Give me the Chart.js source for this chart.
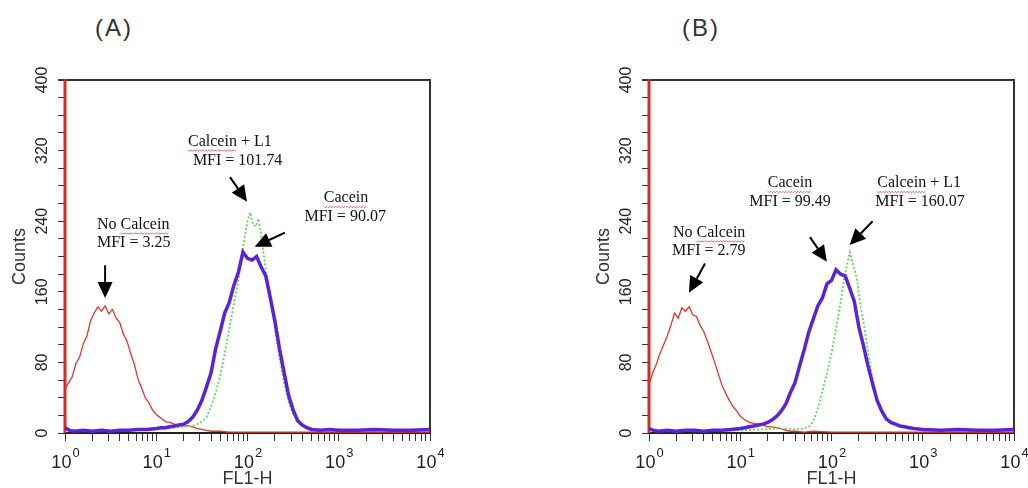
<!DOCTYPE html>
<html>
<head>
<meta charset="utf-8">
<script src="https://cdn.jsdelivr.net/npm/chart.js@4.4.1/dist/chart.umd.min.js"></script>
<style>
  html, body { margin: 0; padding: 0; background: #fff; }
  body { width: 1028px; height: 488px; position: relative; overflow: hidden; font-family: "Liberation Sans", Arial, sans-serif; }
  .panel { position: absolute; top: 0; width: 444px; height: 488px; }
  .tag { position: absolute; top: 14px; font-size: 24px; color: #333; letter-spacing: 2px; transform: translateX(-50%); }
</style>
</head>
<body>
<div class="tag" style="left:114px">(A)</div>
<div class="tag" style="left:701px">(B)</div>
<div class="panel" style="left:0"><canvas id="chartA" width="444" height="488"></canvas></div>
<div class="panel" style="left:584px"><canvas id="chartB" width="444" height="488"></canvas></div>

<script>
const decades = [0, 1, 2, 3, 4];
const countLabels = [0, 80, 160, 240, 320, 400];

// panel A
const redA_x = [0, 0, 0, 0.04, 0.08, 0.12, 0.16, 0.20, 0.24, 0.28, 0.32, 0.36, 0.40, 0.44, 0.48, 0.52, 0.56, 0.60, 0.64, 0.68, 0.72, 0.76, 0.80, 0.84, 0.88, 0.92, 0.96, 1.00,
  1.05, 1.10, 1.15, 1.20, 1.25, 1.30, 1.35, 1.40, 1.45, 1.50, 1.55, 1.60, 1.70, 1.80, 2.00, 2.20, 2.40, 2.60, 2.80, 3.00, 3.50, 4.00];
const redA_y = [0, 420, 50, 57, 64, 79, 86, 101, 110, 127, 136, 143, 138, 144, 135, 140, 130, 125, 112, 104, 90, 78, 61, 51, 40, 34, 26, 21,
  17, 13, 12, 10, 9, 8, 8, 7, 5, 4, 3, 2, 2, 1, 1, 1, 1, 1, 1, 1, 1, 1];

const purpleA_x = [0, 0.05, 0.1, 0.2, 0.3, 0.4, 0.5, 0.6, 0.7, 0.8, 0.9, 1.0,
  1.05, 1.1, 1.15, 1.2, 1.25, 1.3, 1.35, 1.4, 1.45, 1.5, 1.55, 1.6, 1.65, 1.7, 1.75, 1.8, 1.85, 1.9, 1.95, 2.0,
  2.05, 2.1, 2.15, 2.2, 2.25, 2.3, 2.35, 2.4, 2.45, 2.5, 2.55, 2.6, 2.65, 2.7,
  2.8, 2.9, 3.0, 3.2, 3.4, 3.6, 3.8, 4.0];
const purpleA_y = [6, 3, 2, 3, 2, 3, 2, 3, 3, 4, 4, 5,
  6, 6, 7, 8, 9, 10, 13, 18, 26, 37, 52, 68, 95, 115, 136, 148, 167, 182, 205, 198,
  196, 200, 188, 178, 153, 127, 96, 69, 43, 26, 14, 9, 6, 4,
  3, 4, 3, 3, 4, 3, 3, 4];

const greenA_x = [0, 0.5, 1.0, 1.1, 1.2, 1.3, 1.4, 1.45, 1.5, 1.55, 1.6, 1.65, 1.7, 1.75, 1.8, 1.85, 1.9, 1.95, 2.0,
  2.03, 2.06, 2.09, 2.12, 2.15, 2.2, 2.25, 2.3, 2.35, 2.4, 2.45, 2.5, 2.55, 2.6, 2.7, 2.8, 3.0, 3.5, 4.0];
const greenA_y = [3, 2, 4, 5, 6, 7, 8, 10, 13, 18, 30, 45, 64, 90, 118, 146, 172, 210, 240,
  250, 236, 234, 243, 224, 185, 157, 118, 85, 57, 35, 22, 14, 9, 5, 3, 3, 3, 3];

// panel B
const redB_x = redA_x;
const redB_y = [0, 420, 55, 68, 78, 90, 100, 110, 122, 136, 130, 142, 138, 143, 134, 132, 122, 115, 104, 92, 80, 67, 54, 45, 37, 30, 25, 19,
  15, 12, 11, 10, 9, 7, 7, 6, 5, 3, 2, 2, 1, 2, 1, 1, 1, 1, 1, 1, 1, 1];

const purpleB_x = [0, 0.05, 0.1, 0.2, 0.3, 0.4, 0.5, 0.6, 0.7, 0.8, 0.9, 1.0,
  1.05, 1.1, 1.15, 1.2, 1.25, 1.3, 1.35, 1.4, 1.45, 1.5, 1.55, 1.6, 1.65, 1.7, 1.75, 1.8, 1.85, 1.9, 1.95, 2.0,
  2.05, 2.1, 2.15, 2.2, 2.25, 2.3, 2.35, 2.4, 2.45, 2.5, 2.55, 2.6, 2.65, 2.7, 2.75, 2.8, 2.85, 2.9,
  3.0, 3.2, 3.4, 3.6, 3.8, 4.0];
const purpleB_y = [5, 3, 2, 3, 2, 3, 3, 2, 3, 3, 4, 5,
  6, 7, 8, 9, 10, 12, 15, 19, 25, 33, 46, 57, 76, 94, 114, 129, 144, 153, 169, 173,
  185, 180, 178, 164, 149, 120, 99, 76, 56, 37, 25, 16, 12, 10, 8, 7, 6, 5,
  4, 3, 4, 3, 3, 4];

const greenB_x = [0, 0.5, 1.0, 1.2, 1.4, 1.6, 1.7, 1.76, 1.8, 1.85, 1.9, 1.95, 2.0, 2.05, 2.1,
  2.14, 2.17, 2.2, 2.24, 2.28, 2.32, 2.36, 2.4, 2.45, 2.5, 2.55, 2.6, 2.7, 2.8, 2.9, 3.0, 3.5, 4.0];
const greenB_y = [3, 2, 3, 4, 5, 4, 5, 8, 13, 28, 48, 68, 90, 118, 148,
  176, 190, 205, 190, 174, 142, 120, 92, 62, 38, 24, 16, 10, 7, 5, 3, 3, 3];

// annotations (x in FL1-H units, y in counts)
const notesA = [
  { text: 'No Calcein', x: 2.24, y: 236, align: 'left', wavy: 'Calcein' },
  { text: 'MFI = 3.25', x: 2.24, y: 215, align: 'left' },
  { text: 'Calcein + L1', x: 22.3, y: 330, align: 'left', wavy: 'Calcein' },
  { text: 'MFI = 101.74', x: 25.2, y: 309, align: 'left' },
  { text: 'Cacein', x: 1200, y: 266, align: 'center', wavy: 'Cacein' },
  { text: 'MFI = 90.07', x: 1175, y: 245, align: 'center' }
];
const arrowsA = [
  { from: [2.75, 190], to: [2.75, 153] },
  { from: [64.3, 290], to: [98.8, 262] },
  { from: [257, 227], to: [120, 211] }
];
const notesB = [
  { text: 'No Calcein', x: 1.83, y: 227, align: 'left', wavy: 'Calcein' },
  { text: 'MFI = 2.79', x: 1.79, y: 206, align: 'left' },
  { text: 'Cacein', x: 35.1, y: 283, align: 'center', wavy: 'Cacein' },
  { text: 'MFI = 99.49', x: 35.1, y: 262, align: 'center' },
  { text: 'Calcein + L1', x: 912, y: 283, align: 'center', wavy: 'Calcein' },
  { text: 'MFI = 160.07', x: 933, y: 262, align: 'center' }
];
const arrowsB = [
  { from: [4.11, 192], to: [2.74, 159] },
  { from: [58.1, 222], to: [89, 194] },
  { from: [282, 240], to: [158, 213] }
];

const SANS = '"Liberation Sans", Arial, sans-serif';
const SERIF = '"Liberation Serif", "Times New Roman", serif';

function toPoints(xs, ys) {
  return xs.map((e, i) => ({ x: Math.pow(10, e), y: ys[i] }));
}

// frame, rotated count labels, 10^n labels, notes and arrows
const fcsPlot = {
  id: 'fcsPlot',
  beforeDatasetsDraw(chart) {
    const { ctx, chartArea: a } = chart;
    ctx.save();
    ctx.strokeStyle = '#333';
    ctx.lineWidth = 2;
    ctx.beginPath();
    ctx.moveTo(a.left - 7, a.top);
    ctx.lineTo(a.right, a.top);
    ctx.lineTo(a.right, a.bottom);
    ctx.stroke();
    ctx.restore();
  },
  afterDraw(chart, args, opts) {
    const { ctx, scales: { x, y } } = chart;
    ctx.save();
    ctx.fillStyle = '#222';

    // count labels, rotated
    ctx.font = '16px ' + SANS;
    ctx.textAlign = 'center';
    ctx.textBaseline = 'middle';
    countLabels.forEach(v => {
      ctx.save();
      ctx.translate(43, y.getPixelForValue(v));
      ctx.rotate(-Math.PI / 2);
      ctx.fillText(String(v), 0, 0);
      ctx.restore();
    });

    // 10^n labels
    ctx.textAlign = 'left';
    ctx.textBaseline = 'alphabetic';
    decades.forEach(d => {
      const px = x.getPixelForValue(Math.pow(10, d));
      ctx.font = '18px ' + SANS;
      const w1 = ctx.measureText('10').width;
      ctx.font = '13px ' + SANS;
      const w2 = ctx.measureText(String(d)).width;
      const x0 = px - (w1 + w2) / 2;
      ctx.font = '18px ' + SANS;
      ctx.fillText('10', x0, 468);
      ctx.font = '13px ' + SANS;
      ctx.fillText(String(d), x0 + w1 + 1, 457);
    });

    // notes
    ctx.fillStyle = '#111';
    ctx.font = '16px ' + SERIF;
    ctx.textBaseline = 'middle';
    (opts.notes || []).forEach(n => {
      const px = x.getPixelForValue(n.x);
      const py = y.getPixelForValue(n.y);
      const w = ctx.measureText(n.text).width;
      const left = n.align === 'center' ? px - w / 2 : px;
      ctx.textAlign = 'left';
      ctx.fillText(n.text, left, py);
      if (n.wavy) {
        const i = n.text.indexOf(n.wavy);
        const s = left + ctx.measureText(n.text.slice(0, i)).width;
        const e = s + ctx.measureText(n.wavy).width;
        ctx.save();
        ctx.strokeStyle = '#d94040';
        ctx.lineWidth = 0.8;
        ctx.beginPath();
        let up = true;
        for (let xx = s; xx <= e; xx += 1.5) {
          const yy = py + 8 + (up ? 0 : 1.5);
          if (xx === s) ctx.moveTo(xx, yy); else ctx.lineTo(xx, yy);
          up = !up;
        }
        ctx.stroke();
        ctx.restore();
      }
    });

    // arrows
    ctx.strokeStyle = '#000';
    ctx.fillStyle = '#000';
    (opts.arrows || []).forEach(a => {
      const x1 = x.getPixelForValue(a.from[0]), y1 = y.getPixelForValue(a.from[1]);
      const x2 = x.getPixelForValue(a.to[0]), y2 = y.getPixelForValue(a.to[1]);
      const ang = Math.atan2(y2 - y1, x2 - x1);
      const hl = 16, hw = 7.5;
      const bx = x2 - hl * Math.cos(ang), by = y2 - hl * Math.sin(ang);
      ctx.lineWidth = 2;
      ctx.beginPath();
      ctx.moveTo(x1, y1);
      ctx.lineTo(bx, by);
      ctx.stroke();
      ctx.beginPath();
      ctx.moveTo(x2, y2);
      ctx.lineTo(bx + hw * Math.sin(ang), by - hw * Math.cos(ang));
      ctx.lineTo(bx - hw * Math.sin(ang), by + hw * Math.cos(ang));
      ctx.closePath();
      ctx.fill();
    });
    ctx.restore();
  }
};

function makeChart(id, series, notes, arrows) {
  return new Chart(document.getElementById(id), {
    type: 'line',
    data: {
      datasets: [
        { label: 'Calcein', data: series.purple, borderColor: '#5a22dc', borderWidth: 3.5 },
        { label: 'Calcein + L1', data: series.green, borderColor: '#5cd95c', borderWidth: 1.8, borderDash: [2, 2] },
        {
          label: 'No Calcein', data: series.red, borderColor: '#e2362b', borderWidth: 1.3,
          clip: { left: 4, top: 1, right: 1, bottom: 1 },
          // first bin is off scale: heavier stroke along the left edge
          segment: { borderWidth: c => (c.p0DataIndex < 2 ? 3 : 1.3), borderColor: c => (c.p0DataIndex < 2 ? '#d42a20' : '#e2362b') }
        }
      ]
    },
    options: {
      responsive: false,
      animation: false,
      parsing: false,
      elements: { point: { radius: 0 }, line: { tension: 0 } },
      layout: { padding: { top: 80, right: 14, left: 0, bottom: 0 } },
      plugins: {
        legend: { display: false },
        tooltip: { enabled: false },
        fcsPlot: { notes, arrows }
      },
      scales: {
        x: {
          type: 'logarithmic',
          min: 1,
          max: 10000,
          border: { color: '#222', width: 2 },
          grid: { drawOnChartArea: false, tickLength: 8, color: '#333' },
          ticks: { callback: () => '', autoSkip: false, maxRotation: 0 },
          afterBuildTicks: (s) => {
            const t = [];
            decades.forEach(d => {
              const base = Math.pow(10, d);
              if (d < 4) [1, 2, 3, 4, 5, 6, 7, 8, 9].forEach(m => t.push({ value: m * base }));
              else t.push({ value: base });
            });
            s.ticks = t;
          },
          afterFit: (s) => { s.height = 55; },
          title: { display: true, text: 'FL1-H', color: '#333', padding: 0, font: { family: SANS, size: 18, lineHeight: 1 } }
        },
        y: {
          type: 'linear',
          min: 0,
          max: 400,
          border: { color: '#222', width: 2 },
          grid: { drawOnChartArea: false, tickLength: 7, color: '#333' },
          ticks: { callback: () => '' },
          afterBuildTicks: (s) => {
            const t = [];
            for (let v = 0; v <= 400; v += 10) t.push({ value: v });
            s.ticks = t;
          },
          afterFit: (s) => { s.width = 65; },
          title: { display: true, text: 'Counts', color: '#333', padding: { top: 11 }, font: { family: SANS, size: 18, lineHeight: 1 } }
        }
      }
    },
    plugins: [fcsPlot]
  });
}

makeChart('chartA', {
  red: toPoints(redA_x, redA_y),
  purple: toPoints(purpleA_x, purpleA_y),
  green: toPoints(greenA_x, greenA_y)
}, notesA, arrowsA);

makeChart('chartB', {
  red: toPoints(redB_x, redB_y),
  purple: toPoints(purpleB_x, purpleB_y),
  green: toPoints(greenB_x, greenB_y)
}, notesB, arrowsB);
</script>
</body>
</html>
